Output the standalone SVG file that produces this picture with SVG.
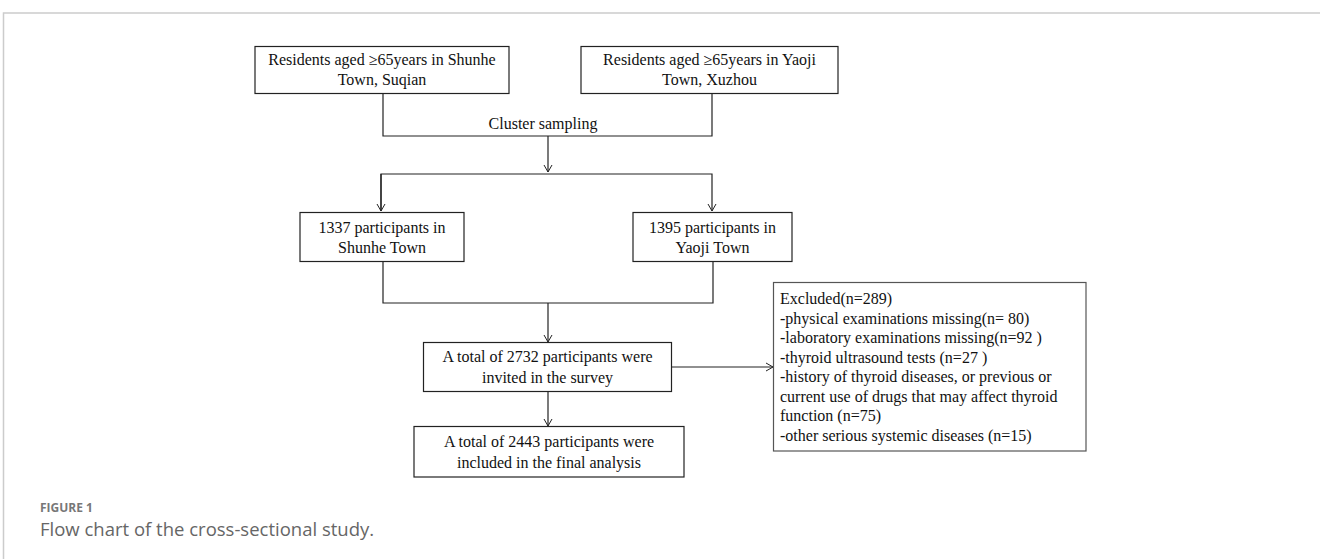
<svg xmlns="http://www.w3.org/2000/svg" width="1320" height="559" viewBox="0 0 1320 559">
<defs>
<marker id="ah" markerWidth="10" markerHeight="10" refX="8" refY="5" orient="auto" markerUnits="userSpaceOnUse">
<path d="M1,1 L8,5 L1,9" fill="none" stroke="#222" stroke-width="1"/>
</marker>
<style>
.box{fill:#fff;stroke:#222;stroke-width:1.2}
.gbox{fill:#fff;stroke:#555;stroke-width:1.2}
.t{font-family:"Liberation Serif","Times New Roman",serif;font-size:16px;fill:#111}
.c{text-anchor:middle}
.ln{fill:none;stroke:#222;stroke-width:1.2}
.cap1{font-family:"Open Sans","Noto Sans",sans-serif;font-size:12px;font-weight:bold;fill:#777}
.cap2{font-family:"Open Sans","Noto Sans",sans-serif;font-size:18.5px;fill:#666}
</style>
</defs>
<rect width="1320" height="559" fill="#fff"/>
<path d="M3.5,559 V13 H1320" fill="none" stroke="#ccc" stroke-width="1.5"/>

<g id="connectors">
<path class="ln" d="M383,93 V136 H712 V93"/>
<path class="ln" d="M548,136 V172" marker-end="url(#ah)"/>
<path class="ln" d="M381,211 V174 H712 V211" marker-end="url(#ah)"/>
<path class="ln" d="M381,174 V211" marker-end="url(#ah)"/>
<path class="ln" d="M383,262 V303 H713 V262"/>
<path class="ln" d="M548,303 V342" marker-end="url(#ah)"/>
<path class="ln" d="M672,367 H773" marker-end="url(#ah)"/>
<path class="ln" d="M548,392 V426" marker-end="url(#ah)"/>
<text class="t c" x="543" y="129">Cluster sampling</text>
</g>

<g id="n1">
<rect class="box" x="255" y="46.5" width="254" height="47"/>
<text class="t c" x="382" y="65">Residents aged ≥65years in Shunhe</text>
<text class="t c" x="382" y="85">Town, Suqian</text>
</g>
<g id="n2">
<rect class="box" x="581" y="46.5" width="257" height="47"/>
<text class="t c" x="709.5" y="65">Residents aged ≥65years in Yaoji</text>
<text class="t c" x="709.5" y="85">Town, Xuzhou</text>
</g>
<g id="n3">
<rect class="box" x="300" y="212.5" width="164" height="49"/>
<text class="t c" x="382" y="233">1337 participants in</text>
<text class="t c" x="382" y="253">Shunhe Town</text>
</g>
<g id="n4">
<rect class="box" x="633" y="212.5" width="159" height="49"/>
<text class="t c" x="712.5" y="233">1395 participants in</text>
<text class="t c" x="712.5" y="253">Yaoji Town</text>
</g>
<g id="n5">
<rect class="box" x="423.5" y="342.5" width="248" height="49"/>
<text class="t c" x="547.5" y="362">A total of 2732 participants were</text>
<text class="t c" x="547.5" y="383">invited in the survey</text>
</g>
<g id="n6">
<rect class="gbox" x="773.5" y="282.5" width="312.5" height="168.5"/>
<text class="t" x="780" y="304">Excluded(n=289)</text>
<text class="t" x="780" y="324">-physical examinations missing(n= 80)</text>
<text class="t" x="780" y="343">-laboratory examinations missing(n=92 )</text>
<text class="t" x="780" y="363">-thyroid ultrasound tests (n=27 )</text>
<text class="t" x="780" y="382">-history of thyroid diseases, or previous or</text>
<text class="t" x="780" y="402">current use of drugs that may affect thyroid</text>
<text class="t" x="780" y="421">function (n=75)</text>
<text class="t" x="780" y="441">-other serious systemic diseases (n=15)</text>
</g>
<g id="n7">
<rect class="box" x="414" y="426.5" width="270" height="50.5"/>
<text class="t c" x="549" y="447">A total of 2443 participants were</text>
<text class="t c" x="549" y="468">included in the final analysis</text>
</g>

<text class="cap1" x="40" y="512">FIGURE 1</text>
<text class="cap2" x="40" y="536">Flow chart of the cross-sectional study.</text>
</svg>
